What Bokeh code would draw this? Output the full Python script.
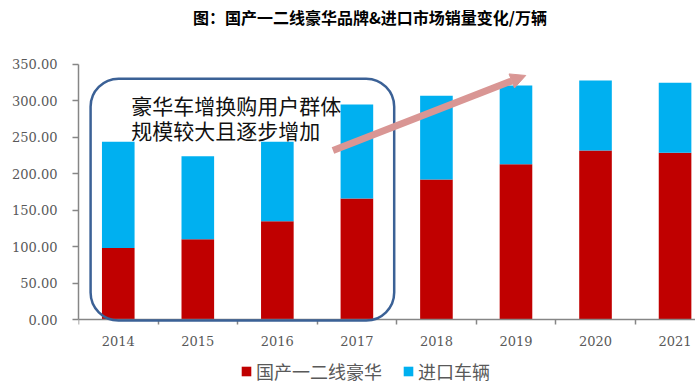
from bokeh.plotting import figure
from bokeh.models import (Range1d, FixedTicker, NumeralTickFormatter, BoxAnnotation,
                          Arrow, NormalHead, Label, Legend, LegendItem, ColumnDataSource)
from bokeh.embed import file_html
from bokeh.resources import INLINE

# ---- data (万辆) ----
years = ["2014", "2015", "2016", "2017", "2018", "2019", "2020", "2021"]
domestic = [98, 110, 135, 166, 192, 213, 232, 229]      # 国产一二线豪华
imported = [146, 114, 109, 129, 115, 108, 96, 96]       # 进口车辆
y_ticks = [0, 50, 100, 150, 200, 250, 300, 350]

title_text = "图：国产一二线豪华品牌&进口市场销量变化/万辆"
note_lines = ["豪华车增换购用户群体", "规模较大且逐步增加"]
series_names = ["国产一二线豪华", "进口车辆"]
colors = ["#C00000", "#00B0F0"]

CJK = "Noto Sans CJK SC"
idx = list(range(len(years)))

p = figure(frame_width=617, frame_height=384, output_backend="svg", toolbar_location=None,
           x_range=Range1d(-0.5, 7.257), y_range=Range1d(-89.2, 437.8),
           min_border_left=78, min_border_right=0, min_border_top=0, min_border_bottom=0)
p.outline_line_color = None
p.xgrid.visible = False
p.ygrid.visible = False
p.background_fill_color = "white"

source = ColumnDataSource(dict(x=idx, domestic=domestic, imported=imported))
rs = p.vbar_stack(["domestic", "imported"], x="x", width=0.41, source=source,
                  color=colors, line_color=None)

# axes
ax = p.xaxis[0]
ax.fixed_location = 0
ax.ticker = FixedTicker(ticks=idx, minor_ticks=[i - 0.5 for i in idx])
ax.major_label_overrides = {i: y for i, y in zip(idx, years)}
ax.major_tick_out = 0
ax.major_tick_in = 0
ax.minor_tick_out = 5
ax.minor_tick_in = 0
ax.axis_line_color = "#868686"
ax.axis_line_width = 1.5
ax.minor_tick_line_color = "#868686"
ax.minor_tick_line_width = 1.5
ax.major_label_text_font = "DejaVu Serif"
ax.major_label_text_font_size = "13px"
ax.major_label_text_color = "#595959"
ax.major_label_standoff = 11

ay = p.yaxis[0]
ay.ticker = FixedTicker(ticks=y_ticks, minor_ticks=[])
ay.bounds = (0, 350)
ay.formatter = NumeralTickFormatter(format="0.00")
ay.major_tick_out = 6
ay.major_tick_in = 0
ay.minor_tick_out = 0
ay.minor_tick_in = 0
ay.axis_line_color = "#868686"
ay.axis_line_width = 1.5
ay.major_tick_line_color = "#868686"
ay.major_tick_line_width = 1.5
ay.major_label_text_font = "DejaVu Serif"
ay.major_label_text_font_size = "13px"
ay.major_label_text_color = "#595959"
ay.major_label_standoff = 15

# rounded box annotation
box = BoxAnnotation(left=-0.348, right=3.469, bottom=-1.5, top=330.4,
                    fill_alpha=0, line_color="#3B6196", line_alpha=1.0,
                    line_width=2.5, border_radius=28)
p.add_layout(box)

# arrow
arrow_color = "#D99694"
arr = Arrow(x_start=2.699, y_start=231.9, x_end=5.123, y_end=334.9,
            line_color=arrow_color, line_width=7,
            end=NormalHead(size=15, fill_color=arrow_color, line_color=arrow_color))
p.add_layout(arr)

# note text
for txt, yv in zip(note_lines, [295.0, 259.4]):
    p.add_layout(Label(x=0.163, y=yv, text=txt, text_font=CJK, text_font_size="21px",
                       text_baseline="middle", text_align="left", text_color="#111111"))

# title
p.add_layout(Label(x=0.938, y=414.5, text=title_text, text_font=CJK, text_font_size="16px",
                   text_font_style="bold", text_baseline="middle", text_align="left",
                   text_color="#000000"))

# legend
legend = Legend(items=[LegendItem(label=series_names[0], renderers=[rs[0]]),
                       LegendItem(label=series_names[1], renderers=[rs[1]])],
                orientation="horizontal", location=(162, 0),
                glyph_width=12, glyph_height=12, label_standoff=4, spacing=20,
                padding=0, margin=0, label_height=18,
                label_text_font=CJK, label_text_font_size="18px", label_text_color="#595959",
                border_line_alpha=0, background_fill_alpha=0)
p.add_layout(legend)

open("out.html", "w").write(file_html(p, INLINE))
